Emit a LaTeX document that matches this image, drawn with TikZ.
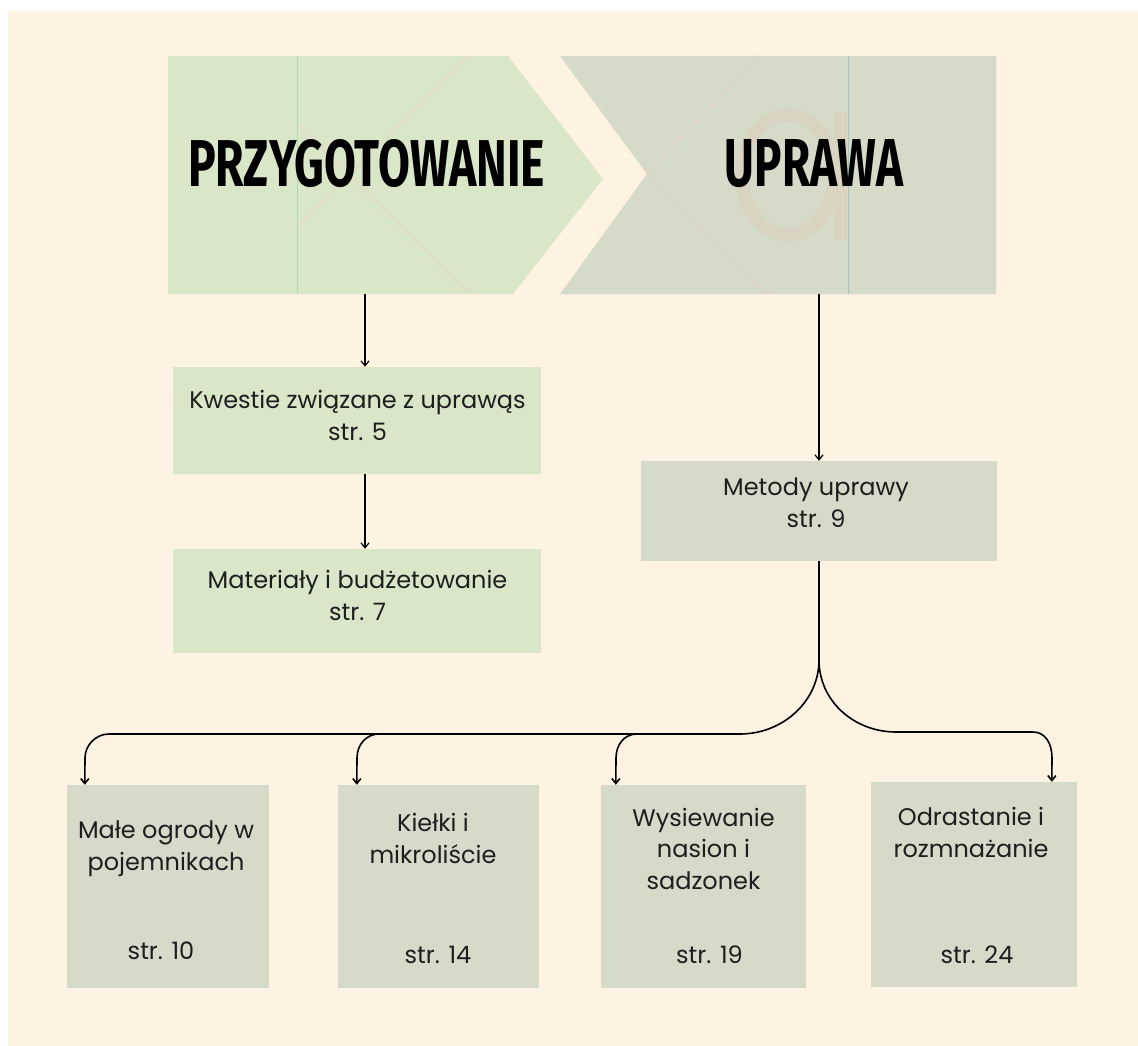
\documentclass[tikz,border=0pt]{standalone}
\usepackage{fontspec}
\usepackage{graphicx}
\setmainfont{Poppins}
\newfontfamily\bannerfont{Fira Sans}
\usetikzlibrary{arrows.meta,calc}
\definecolor{cream}{RGB}{254,242,226}
\definecolor{gfill}{RGB}{217,230,200}
\definecolor{sfill}{RGB}{214,218,201}
\definecolor{gseam}{RGB}{170,218,176}
\definecolor{sseam}{RGB}{170,197,190}
\definecolor{gdeco}{RGB}{223,222,198}
\definecolor{sdeco}{RGB}{220,214,198}
\definecolor{adeco}{RGB}{217,212,194}
\definecolor{textc}{RGB}{30,30,30}
\begin{document}
\begin{tikzpicture}[x=1pt,y=-1pt,
  gbox/.style={rectangle,fill=gfill,draw=none,inner sep=0pt},
  sbox/.style={rectangle,fill=sfill,draw=none,inner sep=0pt},
  txt/.style={font=\fontsize{24}{31.5}\selectfont,align=center,inner sep=0pt,text=textc,anchor=base},
  conn/.style={line width=1.2pt,-{Straight Barb[length=5pt,width=8pt]}},
  branch/.style={line width=1.6pt,-{Straight Barb[length=5pt,width=8pt]}},
  stem/.style={line width=1.6pt}]
\useasboundingbox (0,0) rectangle (1138,1046);
\fill[white] (0,0) rectangle (1138,1046);
\fill[cream] (8,11) rectangle (1138,1046);
% banners
\fill[gfill] (168,56) -- (508,56) -- (603,179) -- (513,294) -- (168,294) -- cycle;
\begin{scope}
\clip (168,56) -- (508,56) -- (603,179) -- (513,294) -- (168,294) -- cycle;
\draw[gdeco,line width=3pt] (297,227) -- (467,56);
\draw[gdeco,line width=3pt] (297,123) -- (470,294);
\end{scope}
\draw[gseam,line width=1pt] (297,56) -- (297,294);
\fill[sfill] (560,56) -- (996,56) -- (996,294) -- (560,294) -- (647,174) -- cycle;
\begin{scope}
\clip (560,56) -- (996,56) -- (996,294) -- (560,294) -- (647,174) -- cycle;
\draw[sdeco,line width=3pt] (647,172) -- (760,56);
\draw[sdeco,line width=3pt] (647,176) -- (767,294);
\draw[adeco,line width=13pt] (788,175) ellipse [x radius=46, y radius=60];
\draw[adeco,line width=13pt] (840,112) -- (840,240);
\end{scope}
\draw[sseam,line width=1pt] (848,56) -- (848,294);
\node[inner sep=0pt] (prz) at (366.5,163.5) {\resizebox{357pt}{47pt}{\bannerfont\bfseries PRZYGOTOWANIE}};
\node[inner sep=0pt] (upr) at (814,163.5) {\resizebox{178pt}{47pt}{\bannerfont\bfseries UPRAWA}};
\coordinate (pbot) at (365,294);
\coordinate (ubot) at (819,294);
% boxes
\node[gbox,minimum width=368pt,minimum height=107pt] (kw) at (357,420.5) {};
\node[gbox,minimum width=368pt,minimum height=104pt] (mat) at (357,601) {};
\node[sbox,minimum width=356pt,minimum height=100pt] (met) at (819,511) {};
\node[sbox,minimum width=202pt,minimum height=203pt] (b1) at (168,886.5) {};
\node[sbox,minimum width=201pt,minimum height=203pt] (b2) at (438.5,886.5) {};
\node[sbox,minimum width=205pt,minimum height=203pt] (b3) at (703.5,886.5) {};
\node[sbox,minimum width=206pt,minimum height=205pt] (b4) at (974,884.5) {};
% texts (anchor = baseline of last line)
\node[txt] (kwt) at (357.5,440) {Kwestie związane z uprawąs\\str. 5};
\node[txt] (matt) at (357.5,620) {Materiały i budżetowanie\\str. 7};
\node[txt] (mett) at (816,527) {Metody uprawy\\str. 9};
\node[txt] (b1t) at (166,870) {Małe ogrody w\\pojemnikach};
\node[txt] (b1s) at (161,959) {str. 10};
\node[txt] (b2t) at (433,863) {Kiełki i\\mikroliście};
\node[txt] (b2s) at (438,963) {str. 14};
\node[txt] (b3t) at (703.5,889) {Wysiewanie\\nasion i\\sadzonek};
\node[txt] (b3s) at (709.5,963) {str. 19};
\node[txt] (b4t) at (971,857) {Odrastanie i\\rozmnażanie};
\node[txt] (b4s) at (977,963) {str. 24};
% connectors
\draw[conn] (pbot) -- (pbot |- kw.north);
\draw[conn] (kw.south -| pbot) -- (mat.north -| pbot);
\draw[conn] (ubot) -- (met.north);
\coordinate (t1) at ($(b1.north west)+(18,0)$);
\coordinate (t2) at ($(b2.north west)+(19,0)$);
\coordinate (t3) at ($(b3.north west)+(15,0)$);
\coordinate (t4) at ($(b4.north west)+(181,0)$);
\coordinate (fork) at (819,660);
\draw[stem] (met.south) -- (fork);
\draw[branch] (fork) .. controls (819,701) and (783,734) .. (740,734) -- (109,734)
  .. controls (96,734) and (85,745) .. (85,758) -- (t1);
\draw[branch] (400,734) -- (379,734) .. controls (366,734) and (357,745) .. (357,758) -- (t2);
\draw[branch] (660,734) -- (637,734) .. controls (624,734) and (616,745) .. (616,758) -- (t3);
\draw[branch] (fork) .. controls (819,701) and (854,732) .. (896,732) -- (1033,732)
  .. controls (1045,732) and (1052,743) .. (1052,758) -- (t4);
\end{tikzpicture}
\end{document}
